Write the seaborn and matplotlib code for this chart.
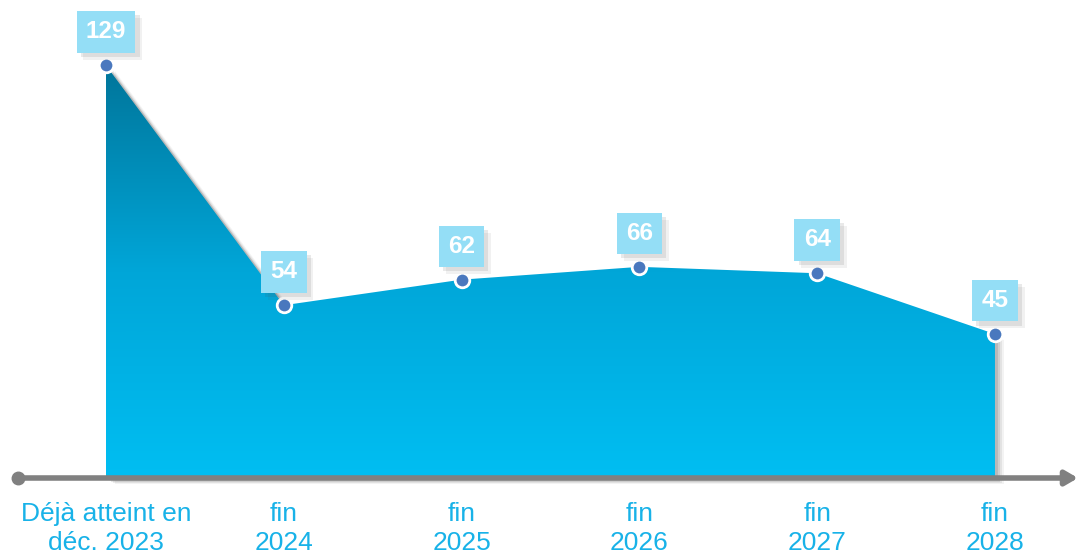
import numpy as np
import matplotlib
matplotlib.use("Agg")
import matplotlib.pyplot as plt
import matplotlib.patheffects as pe
import matplotlib.transforms as mtransforms
from matplotlib.colors import LinearSegmentedColormap
import pandas as pd
import seaborn as sns

# Values per milestone
categories = ["Déjà atteint en\ndéc. 2023", "fin\n2024", "fin\n2025", "fin\n2026", "fin\n2027", "fin\n2028"]
values = [129, 54, 62, 66, 64, 45]

sns.set_theme(style="white")
plt.rcParams["font.family"] = ["Liberation Sans", "DejaVu Sans"]

df = pd.DataFrame({"pos": np.arange(len(values)), "value": values})

fig = plt.figure(figsize=(10.78, 5.55), dpi=100)
ax = fig.add_axes([0, 0, 1, 1])
ax.set_xlim(-0.596, 5.467)
ax.set_ylim(-24.06, 149.4)
ax.axis("off")

x = df["pos"].to_numpy()
y = df["value"].to_numpy()

# Soft drop shadow behind the area (stacked offset copies)
for dx, dy, a in [(9, -6, 0.06), (7, -5, 0.09), (5, -4, 0.12), (3, -2, 0.15)]:
    tr = mtransforms.offset_copy(ax.transData, fig=fig, x=dx, y=dy, units="dots")
    ax.fill_between(x, 0, y, facecolor="#404040", edgecolor="none", alpha=a, zorder=1, transform=tr)

# Area with vertical gradient
area = ax.fill_between(x, 0, y, facecolor="none", edgecolor="none", zorder=2)
cmap = LinearSegmentedColormap.from_list("area", ["#00BEF2", "#00A6D8", "#00759A"])
grad = np.linspace(0, 1, 256).reshape(-1, 1)
img = ax.imshow(grad, cmap=cmap, aspect="auto", origin="lower",
                extent=(x[0], x[-1], 0, max(values)), zorder=3, interpolation="bicubic")
img.set_clip_path(area.get_paths()[0], transform=ax.transData)

# Horizontal axis with dot and arrow
ax.plot([-0.495, 5.40], [0, 0], color="#808080", lw=4, solid_capstyle="butt", zorder=4, clip_on=False)
ax.plot([-0.495], [0], marker="o", ms=9, color="#808080", zorder=4, clip_on=False)
ax.annotate("", xy=(5.467, 0), xytext=(5.39, 0),
            arrowprops=dict(arrowstyle="-|>,head_length=0.6,head_width=0.35", color="#808080", lw=4,
                            shrinkA=0, shrinkB=0), zorder=4)

# Markers
sns.scatterplot(data=df, x="pos", y="value", ax=ax, s=110, color="#4A78BE",
                edgecolor="white", linewidth=2, zorder=6, legend=False)
ax.set_xlabel("")
ax.set_ylabel("")

# Value labels
for xi, v in zip(x, values):
    for dx, dy, a in [(5, -5, 0.08), (3, -3, 0.12)]:
        s = ax.annotate(str(v), (xi, v), xytext=(0, 24), textcoords="offset points",
                        ha="center", va="center", fontsize=17.5, fontweight="bold", color="none",
                        bbox=dict(boxstyle="square,pad=0.38", facecolor="none", edgecolor="none"),
                        zorder=6.5)
        s.get_bbox_patch().set_path_effects([
            pe.SimplePatchShadow(offset=(dx, dy), shadow_rgbFace="#505050", alpha=a)])
    t = ax.annotate(str(v), (xi, v), xytext=(0, 24), textcoords="offset points",
                    ha="center", va="center", fontsize=17.5, fontweight="bold", color="white",
                    bbox=dict(boxstyle="square,pad=0.38", facecolor="#94DEF6", edgecolor="none"),
                    zorder=7)

# Category labels
for xi, c in zip(x, categories):
    ax.text(xi, -7.4, c, ha="center", va="top", fontsize=19, color="#18B2E8", linespacing=1.28)

fig.savefig("out.png", dpi=100)
